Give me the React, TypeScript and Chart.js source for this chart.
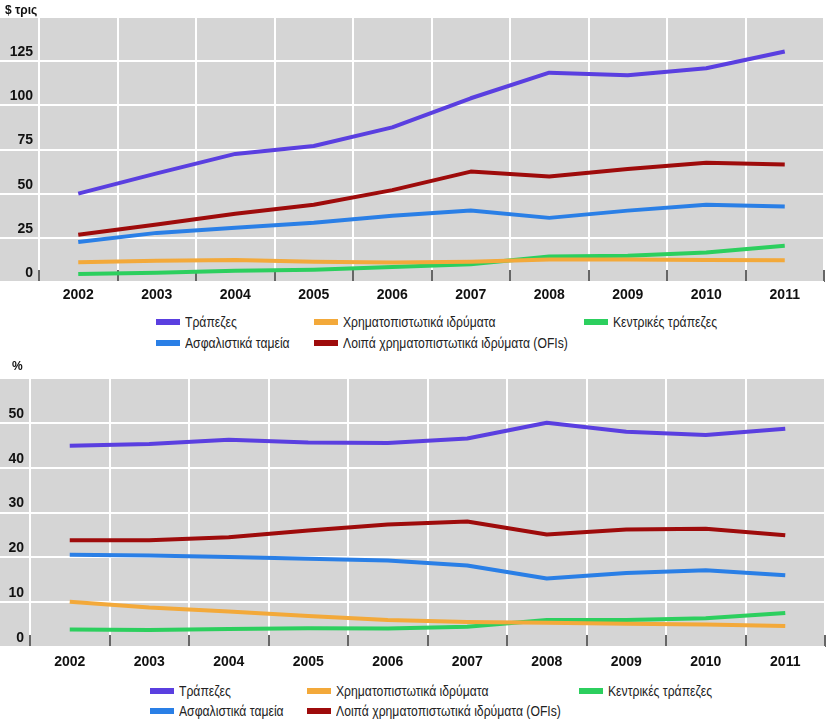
import React, { useEffect, useRef } from 'react';
import { Chart, registerables } from 'chart.js';

Chart.register(...registerables);

const FONT = "'Liberation Sans', Arial, sans-serif";

// Categories
const years = ['2002', '2003', '2004', '2005', '2006', '2007', '2008', '2009', '2010', '2011'];

// Series labels & colours (order = legend order, row-wise)
const seriesLabels = [
  'Τράπεζες',
  'Χρηματοπιστωτικά ιδρύματα',
  'Κεντρικές τράπεζες',
  'Ασφαλιστικά ταμεία',
  'Λοιπά χρηματοπιστωτικά ιδρύματα (OFIs)',
];
const seriesColors = ['#5a3fe0', '#f3a93a', '#2ccf5e', '#2a7fe6', '#9e0b0b'];

// Top chart: $ trillion
const banksUsd = [50, 61.5, 72.5, 77, 87.5, 104, 118.5, 117, 121, 130.5];
const finInstUsd = [11.2, 12, 12.5, 11.4, 11, 11.5, 12.8, 12.8, 12.5, 12.3];
const centralUsd = [4.5, 5.3, 6.3, 7, 8.5, 10, 14.4, 14.8, 16.7, 20.5];
const insuranceUsd = [22.7, 27.8, 30.7, 33.5, 37.5, 40.5, 36.3, 40.4, 43.7, 42.8];
const ofisUsd = [26.7, 32.5, 38.6, 43.7, 52, 62.5, 59.7, 64, 67.5, 66.5];

// Bottom chart: %
const banksPct = [44.9, 45.3, 46.2, 45.6, 45.5, 46.5, 50, 48, 47.3, 48.7];
const finInstPct = [10.1, 8.8, 7.9, 6.9, 6, 5.6, 5.4, 5.2, 5.0, 4.7];
const centralPct = [3.9, 3.8, 4, 4.2, 4.1, 4.5, 6, 6, 6.4, 7.6];
const insurancePct = [20.6, 20.4, 20.1, 19.7, 19.3, 18.2, 15.3, 16.5, 17.1, 16];
const ofisPct = [23.8, 23.8, 24.5, 26, 27.3, 28, 25.1, 26.2, 26.4, 24.9];

// Axis settings
const usdMax = 150;
const usdStep = 25;
const pctMax = 60;
const pctStep = 10;

const grayBg = {
  id: 'grayBg',
  beforeDraw(chart: any) {
    const { ctx, chartArea } = chart;
    ctx.save();
    ctx.fillStyle = '#d5d5d5';
    ctx.fillRect(0, chartArea.top, chartArea.right, chartArea.bottom - chartArea.top);
    ctx.restore();
  },
};

type PanelProps = {
  top: number;
  height: number;
  values: number[][];
  yMax: number;
  yStep: number;
  leftW: number;
  plotTop: number;
  xAxisH: number;
  xPad: number;
  rightPad: number;
  unit: string;
  unitLeft: number;
  unitY: number;
  legendCols: number[];
  legendRows: number[];
};

function Panel(p: PanelProps) {
  const ref = useRef<HTMLCanvasElement | null>(null);
  useEffect(() => {
    if (!ref.current) return;
    const chart = new Chart(ref.current, {
      type: 'line',
      data: {
        labels: years,
        datasets: p.values.map((v, i) => ({
          label: seriesLabels[i],
          data: v,
          borderColor: seriesColors[i],
          backgroundColor: seriesColors[i],
          borderWidth: 4,
          pointRadius: 0,
          tension: 0,
          fill: false,
          borderJoinStyle: 'round' as const,
        })),
      },
      options: {
        responsive: false,
        animation: false,
        layout: { padding: { top: p.plotTop, right: p.rightPad, left: 0, bottom: 0 } },
        plugins: { legend: { display: false }, tooltip: { enabled: false } },
        scales: {
          x: {
            type: 'category',
            offset: true,
            border: { display: false },
            grid: {
              offset: true,
              color: '#ffffff',
              lineWidth: 2,
              tickColor: '#333333',
              tickWidth: 1.5,
              tickLength: -12,
              drawTicks: true,
            },
            ticks: {
              padding: p.xPad,
              color: '#111111',
              autoSkip: false,
              maxRotation: 0,
              font: { family: FONT, size: 14, weight: 'bold' },
            },
            afterFit: (s: any) => {
              s.height = p.xAxisH;
            },
          },
          y: {
            min: 0,
            max: p.yMax,
            border: { display: false },
            grid: {
              color: '#ffffff',
              lineWidth: 2,
              tickColor: '#ffffff',
              tickWidth: 2,
              tickLength: p.leftW,
            },
            ticks: {
              stepSize: p.yStep,
              padding: 6 - p.leftW,
              labelOffset: -9,
              color: '#111111',
              font: { family: FONT, size: 14, weight: 'bold' },
              callback: (v: any) => (Number(v) === p.yMax ? '' : String(v)),
            },
            afterFit: (s: any) => {
              s.width = p.leftW;
            },
          },
        },
      },
      plugins: [grayBg],
    });
    return () => chart.destroy();
  }, []);

  const legendItems = seriesLabels.map((label, i) => {
    const row = i < 3 ? 0 : 1;
    const col = i < 3 ? i : i - 3;
    return (
      <div
        key={label}
        style={{
          position: 'absolute',
          left: p.legendCols[col],
          top: p.legendRows[row] - p.top - 9,
          height: 18,
          display: 'flex',
          alignItems: 'center',
          whiteSpace: 'nowrap',
          fontFamily: FONT,
          fontSize: 14,
          color: '#222222',
        }}
      >
        <span
          style={{
            display: 'inline-block',
            width: 24,
            height: 6,
            background: seriesColors[i],
            marginRight: 5,
          }}
        />
        <span style={{ display: 'inline-block', transform: 'scaleX(0.87)', transformOrigin: 'left center' }}>
          {label}
        </span>
      </div>
    );
  });

  return (
    <div style={{ position: 'absolute', left: 0, top: p.top, width: 826, height: 370 }}>
      <canvas ref={ref} width={826} height={p.height} style={{ display: 'block', width: 826, height: p.height }} />
      <div
        style={{
          position: 'absolute',
          left: p.unitLeft,
          top: p.unitY - p.top - 8,
          height: 16,
          lineHeight: '16px',
          fontFamily: FONT,
          fontWeight: 'bold',
          fontSize: 12,
          color: '#111111',
        }}
      >
        {p.unit}
      </div>
      {legendItems}
    </div>
  );
}

export default function App() {
  return (
    <div
      style={{
        position: 'absolute',
        left: 0,
        top: 0,
        width: 826,
        height: 725,
        background: '#ffffff',
        overflow: 'hidden',
      }}
    >
      <Panel
        top={0}
        height={310}
        values={[banksUsd, finInstUsd, centralUsd, insuranceUsd, ofisUsd]}
        yMax={usdMax}
        yStep={usdStep}
        leftW={39}
        plotTop={17}
        xAxisH={28}
        xPad={17}
        rightPad={2}
        unit="$ τρις"
        unitLeft={5}
        unitY={10}
        legendCols={[156, 314, 584]}
        legendRows={[322, 343]}
      />
      <Panel
        top={355}
        height={325}
        values={[banksPct, finInstPct, centralPct, insurancePct, ofisPct]}
        yMax={pctMax}
        yStep={pctStep}
        leftW={30}
        plotTop={23}
        xAxisH={33}
        xPad={19}
        rightPad={1}
        unit="%"
        unitLeft={12}
        unitY={366}
        legendCols={[150, 307, 579]}
        legendRows={[691, 711]}
      />
    </div>
  );
}
